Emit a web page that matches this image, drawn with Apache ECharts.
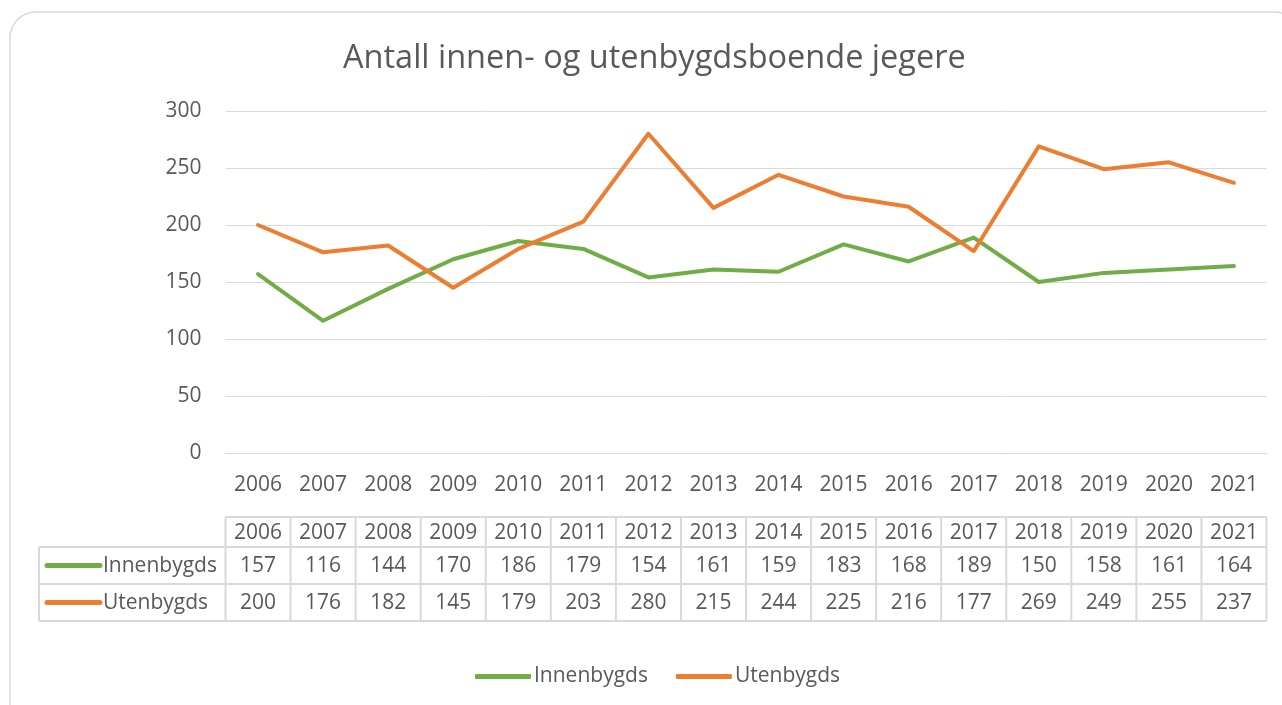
<!DOCTYPE html>
<html>
<head>
<meta charset="utf-8">
<script src="https://cdn.jsdelivr.net/npm/echarts@6/dist/echarts.min.js"></script>
<style>
  html, body { margin: 0; padding: 0; background: #fff; overflow: hidden; }
  #main { width: 1282px; height: 705px; }
</style>
</head>
<body>
<div id="main"></div>
<script>
// data
var years = ['2006','2007','2008','2009','2010','2011','2012','2013','2014','2015','2016','2017','2018','2019','2020','2021'];
var innenbygds = [157, 116, 144, 170, 186, 179, 154, 161, 159, 183, 168, 189, 150, 158, 161, 164];
var utenbygds = [200, 176, 182, 145, 179, 203, 280, 215, 244, 225, 216, 177, 269, 249, 255, 237];
var yTicks = [0, 50, 100, 150, 200, 250, 300];

var green = '#70AD47';
var orange = '#ED7D31';
var textColor = '#595959';
var lineGray = '#D9D9D9';
var fontFam = '"Open Sans", "Noto Sans", sans-serif';
var fs = 21;

var chart = echarts.init(document.getElementById('main'));

var option = {
    backgroundColor: '#fff',
    animation: false,
    title: {
        text: 'Antall innen- og utenbygdsboende jegere',
        left: 338,
        top: 37,
        textStyle: { color: textColor, fontSize: 32.5, fontWeight: 'normal', fontFamily: fontFam }
    },
    legend: {
        bottom: 13,
        left: 470,
        itemWidth: 56,
        itemHeight: 5,
        itemGap: 28,
        icon: 'roundRect',
        data: ['Innenbygds', 'Utenbygds'],
        textStyle: { color: textColor, fontSize: fs, fontFamily: fontFam, padding: [0, 0, 0, -2] }
    },
    grid: {
        left: 225.5,
        right: 15.5,
        top: 111,
        bottom: 252,
        containLabel: false
    },
    xAxis: {
        type: 'category',
        boundaryGap: true,
        data: years,
        axisLine: { lineStyle: { color: lineGray, width: 1 } },
        axisTick: { show: false },
        axisLabel: { color: textColor, fontSize: fs, fontFamily: fontFam, margin: 22 }
    },
    yAxis: {
        type: 'value',
        min: yTicks[0],
        max: yTicks[yTicks.length - 1],
        interval: 50,
        axisLine: { show: false },
        axisTick: { show: false },
        axisLabel: { color: textColor, fontSize: fs, fontFamily: fontFam, margin: 24 },
        splitLine: { lineStyle: { color: lineGray, width: 1 } }
    },
    series: [
        {
            name: 'Innenbygds',
            type: 'line',
            data: innenbygds,
            color: green,
            symbol: 'none',
            lineStyle: { width: 4, cap: 'round', join: 'round' }
        },
        {
            name: 'Utenbygds',
            type: 'line',
            data: utenbygds,
            color: orange,
            symbol: 'none',
            lineStyle: { width: 4, cap: 'round', join: 'round' }
        }
    ]
};
chart.setOption(option);

// data table below the axis, placed from the category axis positions
function buildTable() {
    var xs = years.map(function (y, i) { return chart.convertToPixel({ xAxisIndex: 0 }, i); });
    var half = (xs[1] - xs[0]) / 2;
    var left0 = xs[0] - half;
    var right0 = xs[xs.length - 1] + half;
    var labelLeft = 39;
    var rowTops = [517, 547, 584, 621];
    var els = [];
    var cellFont = fs + 'px ' + fontFam;

    // outer chart border
    els.push({
        type: 'rect', silent: true, z: -1,
        shape: { x: 10, y: 12, width: 1290, height: 720, r: 26 },
        style: { fill: 'none', stroke: lineGray, lineWidth: 1.5 }
    });

    function hline(x1, x2, y) {
        els.push({ type: 'line', silent: true, shape: { x1: x1, y1: y, x2: x2, y2: y }, style: { stroke: lineGray, lineWidth: 2 } });
    }
    function vline(x, y1, y2) {
        els.push({ type: 'line', silent: true, shape: { x1: x, y1: y1, x2: x, y2: y2 }, style: { stroke: lineGray, lineWidth: 2 } });
    }
    hline(left0, right0, rowTops[0]);
    hline(labelLeft, right0, rowTops[1]);
    hline(labelLeft, right0, rowTops[2]);
    hline(labelLeft, right0, rowTops[3]);
    vline(labelLeft, rowTops[1], rowTops[3]);
    for (var i = 0; i <= xs.length; i++) {
        var bx = left0 + i * 2 * half;
        vline(bx, rowTops[0], rowTops[3]);
    }

    var rows = [years, innenbygds, utenbygds];
    rows.forEach(function (row, r) {
        var cy = (rowTops[r] + rowTops[r + 1]) / 2 + 1;
        row.forEach(function (v, i) {
            els.push({
                type: 'text', silent: true,
                style: { text: String(v), x: xs[i], y: cy, align: 'center', verticalAlign: 'middle', fill: textColor, font: cellFont }
            });
        });
    });

    var names = [['Innenbygds', green], ['Utenbygds', orange]];
    names.forEach(function (n, k) {
        var cy = (rowTops[k + 1] + rowTops[k + 2]) / 2;
        els.push({
            type: 'line', silent: true,
            shape: { x1: 47, y1: cy, x2: 100, y2: cy },
            style: { stroke: n[1], lineWidth: 5, lineCap: 'round' }
        });
        els.push({
            type: 'text', silent: true,
            style: { text: n[0], x: 103, y: cy + 1, align: 'left', verticalAlign: 'middle', fill: textColor, font: cellFont }
        });
    });

    chart.setOption({ graphic: els });
}
buildTable();
</script>
</body>
</html>
